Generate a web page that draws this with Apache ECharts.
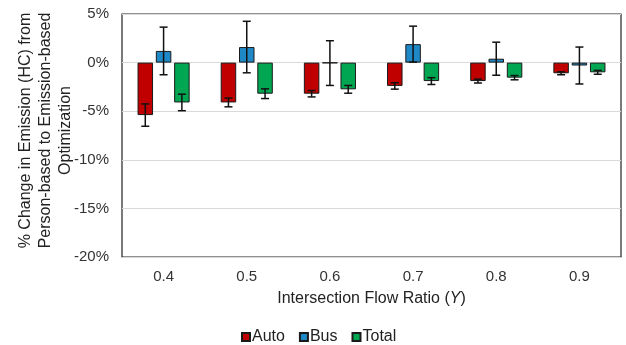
<!DOCTYPE html>
<html>
<head>
<meta charset="utf-8">
<script src="https://cdn.jsdelivr.net/npm/echarts@6/dist/echarts.min.js"></script>
<style>html,body{margin:0;padding:0;background:#fff}#c{width:626px;height:345px}</style>
</head>
<body>
<div id="c"></div>
<script>
var categories = ['0.4', '0.5', '0.6', '0.7', '0.8', '0.9'];
var autoVals = [-5.4, -4.1, -3.2, -2.4, -1.9, -1.1];
var autoErr = [1.15, 0.45, 0.33, 0.33, 0.2, 0.15];
var busVals = [1.2, 1.6, -0.05, 1.9, 0.4, -0.3];
var busErr = [2.45, 2.65, 2.3, 1.85, 1.7, 1.9];
var totalVals = [-4.1, -3.2, -2.75, -1.9, -1.55, -1.0];
var totalErr = [0.85, 0.5, 0.4, 0.35, 0.22, 0.2];
var yTicks = [-20, -15, -10, -5, 0, 5];

var BAR_W = 15.5, GAP = 2.8;
var colors = {Auto: '#C00000', Bus: '#1F88C6', Total: '#00A651'};

function errData(vals, errs) {
  return vals.map(function (v, i) { return [i, v - errs[i], v + errs[i]]; });
}
function errSeries(name, vals, errs, slot) {
  return {
    type: 'custom', name: name, z: 5,
    data: errData(vals, errs),
    encode: {x: 0, y: [1, 2]},
    renderItem: function (params, api) {
      var lo = api.coord([api.value(0), api.value(1)]);
      var hi = api.coord([api.value(0), api.value(2)]);
      var x = lo[0] + slot * (BAR_W + GAP);
      var cap = 4;
      var st = {stroke: '#111', lineWidth: 1.5};
      return {type: 'group', children: [
        {type: 'line', shape: {x1: x, y1: lo[1], x2: x, y2: hi[1]}, style: st},
        {type: 'line', shape: {x1: x - cap, y1: lo[1], x2: x + cap, y2: lo[1]}, style: st},
        {type: 'line', shape: {x1: x - cap, y1: hi[1], x2: x + cap, y2: hi[1]}, style: st}
      ]};
    }
  };
}
function barSeries(name, vals) {
  return {
    type: 'bar', name: name, data: vals, barWidth: BAR_W, barGap: (GAP / BAR_W * 100) + '%',
    itemStyle: {color: colors[name], borderColor: '#1a1a1a', borderWidth: 1}
  };
}

var chart = echarts.init(document.getElementById('c'));
chart.setOption({
  animation: false,
  textStyle: {fontFamily: 'Liberation Sans, Arial, sans-serif'},
  grid: {left: 122, right: 5, top: 14, bottom: 88, show: true, borderColor: '#222', borderWidth: 1.2,
         outerBoundsMode: 'none', containLabel: false},
  legend: {
    data: ['Auto', 'Bus', 'Total'], top: 324, left: 236,
    icon: 'rect', itemWidth: 8, itemHeight: 8, itemGap: 14,
    textStyle: {fontSize: 16, color: '#222', padding: [0, 0, 0, -3]}
  },
  xAxis: {
    type: 'category', data: categories,
    axisLine: {show: false}, axisTick: {show: false},
    axisLabel: {fontSize: 15, color: '#333', margin: 12},
    name: 'Intersection Flow Ratio ({i|Y})', nameLocation: 'middle', nameGap: 34,
    nameTextStyle: {fontSize: 16, color: '#222', rich: {i: {fontStyle: 'italic', fontSize: 16, color: '#222'}}}
  },
  yAxis: {
    type: 'value', min: yTicks[0], max: yTicks[yTicks.length - 1], interval: 5,
    axisLine: {show: false}, axisTick: {show: false},
    axisLabel: {fontSize: 15, color: '#333', margin: 13, formatter: function (v) { return v + '%'; }},
    splitLine: {lineStyle: {color: '#d9d9d9', width: 1.2}},
    name: '% Change in Emission (HC) from\nPerson-based to Emission-based\nOptimization',
    nameLocation: 'middle', nameRotate: 90, nameGap: 46, nameMoveOverlap: false,
    nameTextStyle: {fontSize: 16, color: '#222', lineHeight: 20, align: 'center', padding: [0, 0, 0, 10]}
  },
  series: [
    barSeries('Auto', autoVals),
    barSeries('Bus', busVals),
    barSeries('Total', totalVals),
    errSeries('Auto', autoVals, autoErr, -1),
    errSeries('Bus', busVals, busErr, 0),
    errSeries('Total', totalVals, totalErr, 1)
  ]
});
</script>
</body>
</html>
